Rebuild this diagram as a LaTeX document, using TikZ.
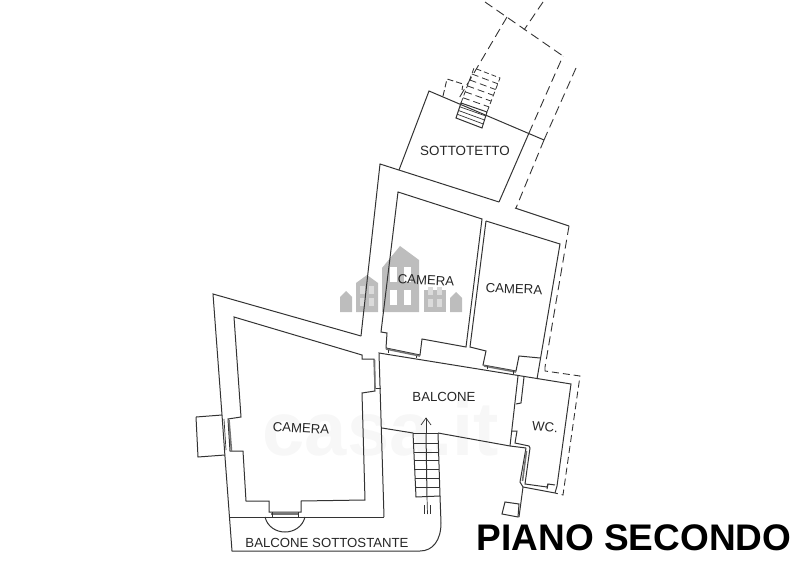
\documentclass[tikz,border=0pt]{standalone}
\usepackage{fontspec}
\usetikzlibrary{calc}
\setmainfont{Liberation Sans}
\definecolor{wall}{gray}{0.2}
\definecolor{mark}{gray}{0.74}
\tikzset{
  wl/.style={draw=wall,line width=1pt,line join=miter},
  dsh/.style={draw=wall,line width=0.9pt,dash pattern=on 9pt off 5pt},
  thin wl/.style={draw=wall,line width=0.7pt},
  glass/.style={draw=black!55,line width=1.6pt},
  lbl/.style={text=black!85,inner sep=0pt,font=\fontsize{13.2}{14}\selectfont},
  house/.style={fill=mark,draw=none},
  pane/.style={fill=white,draw=none}
}
\begin{document}
\begin{tikzpicture}[x=1pt,y=-1pt]
\useasboundingbox (0,0) rectangle (800,561);
% faint watermark
\node[text=black!3,font=\bfseries\fontsize{76}{76}\selectfont,inner sep=0pt] (wm) at (381,428) {casa.it};
% houses
\fill[house] (382,312) -- (382,268) -- (400,246) -- (419,260) -- (419,312) -- cycle;
\fill[house] (356,312) -- (356,283) -- (367,275) -- (378,283) -- (378,312) -- cycle;
\fill[house] (424,312) -- (424,290) -- (446,290) -- (446,312) -- cycle;
\fill[house] (340,312) -- (340,297) -- (346,291) -- (352,297) -- (352,312) -- cycle;
\fill[house] (450,312) -- (450,298) -- (456,292) -- (462,298) -- (462,312) -- cycle;
\foreach \px/\py in {390/267,404/267,390/290,404/290}{\fill[pane] (\px,\py) rectangle +(7,15);}
\foreach \px/\py in {360/286,369/286,360/298,369/298,428/287,437/287,428/299,437/299}{\fill[white!45!mark] (\px,\py) rectangle +(5,8);}
% sottotetto
\draw[wl] (399,170) -- (429,91) -- (544,140);
\draw[wl] (529,133) -- (499,202);
% upper building outer wall
\draw[wl] (361,336) -- (380,164) -- (499,202);
\draw[wl] (515,208) -- (569,226);
% upper dashed
\draw[dsh] (544,140) -- (516,208);
\draw[dsh] (529,133) -- (563,56);
\draw[dsh] (485,2) -- (563,56);
\draw[dsh] (507,17) -- (458,100);
\draw[dsh] (543,2) -- (524,30);
\draw[dsh] (576,68) -- (544,140);
\draw[draw=wall,line width=0.9pt,dash pattern=on 6pt off 3pt] (443,96) -- (447,79) -- (463,84) -- (462,90);
\draw[dsh] (569,226) -- (545,367);
% sottotetto stair
\draw[wl] (461,103) -- (456,118) -- (482,128) -- (487,112) -- cycle;
\foreach \t in {0.25,0.5,0.75}{\draw[thin wl] ($(461,103)!\t!(456,118)$) -- ($(487,112)!\t!(482,128)$);}
\draw[draw=wall,line width=0.8pt,dash pattern=on 5pt off 3pt] (461,103) -- (474,68) -- (500,78) -- (487,112);
\foreach \t in {0.17,0.34,0.51,0.68,0.85}{\draw[draw=wall,line width=0.8pt,dash pattern=on 7pt off 4pt] ($(474,68)!\t!(461,103)$) -- ($(500,78)!\t!(487,112)$);}
% camera 1 and 2 (upper)
\draw[wl] (398,192) -- (482,219) -- (466,347) -- (422,339) -- (420,355) -- (386,348) -- (387,333) -- (381,332) -- cycle;
\draw[wl] (486,221) -- (560,244) -- (537,379);
\draw[wl] (486,221) -- (470,347) -- (486,351) -- (483,365) -- (516,371) -- (519,356) -- (540,358);
% upper windows
\draw[glass] (386,349) -- (420,356);
\draw[glass] (484,366) -- (516,372);
\draw[thin wl] (388,350) -- (388,353) (416,356) -- (416,358);
\draw[thin wl] (487,366) -- (487,369) (513,371) -- (513,374);
% left room outer
\draw[wl] (361,336) -- (213,294) -- (222,415) -- (225,457) -- (232,551) -- (420,551) .. controls (433,551) and (441,540) .. (441,523) -- (440,496);
\draw[wl] (196,417) -- (222,415);
\draw[wl] (196,417) -- (198,457) -- (225,455);
\draw[wl] (229,517) -- (384,517);
% camera left inner
\draw[wl] (234,317) -- (362,355) -- (362,359) -- (374,359) -- (375,391) -- (362,393) -- (365,500) -- (301,501) -- (301,512) -- (269,512) -- (269,501) -- (246,501) -- (243,451) -- (230,451) -- (228,419) -- (241,417) -- cycle;
% left room windows
\draw[glass] (271,514) -- (299,514);
\draw[thin wl] (272,512) -- (272,517) (298,512) -- (298,517);
\draw[glass] (374.5,360) -- (375,389);
\draw[thin wl] (376,388) -- (381,388);
\draw[glass] (229,420) -- (231.5,451);
\draw[thin wl] (224,419) -- (226,450);
% door arc
\draw[wl] (265,517) .. controls (270,537) and (300,537) .. (305,517);
% balcone
\draw[wl] (384,517) -- (379,353) -- (571,384) -- (557,486) -- (555,493);
\draw[wl] (382,428) -- (413,433) (438,433) -- (510,446) -- (526,448);
\draw[wl] (518,376) -- (510,446);
\draw[wl] (524,377) -- (521,403) -- (516,404);
\draw[wl] (512,431) -- (517,431) -- (515,443) -- (529,446) -- (530,448) -- (525,484) -- (547,487) -- (548,484) -- (555,485);
\draw[wl] (526,448) -- (520,482) -- (523,487) -- (519,517);
\draw[wl] (523,487) -- (555,493);
\draw[wl] (548,484) -- (547,489);
\draw[glass] (526.5,451) -- (522.5,481);
% small lower box
\draw[wl] (505,502) -- (519,504) -- (518,517) -- (502,514) -- cycle;
% wc dashed
\draw[draw=wall,line width=0.9pt,dash pattern=on 7pt off 4pt] (545,367) -- (545,371) -- (580,376) -- (563,495) -- (555,493);
% balcone stairs
\draw[wl] (413,433) -- (438,433);
\draw[wl] (413,433) -- (416,497) -- (440,496) -- (438,433);
\draw[wl] (426,433) -- (427,497);
\foreach \yy/\xa/\xb in {443/413.5/438.3,452/414/438.7,460/414.5/439,469/414.8/439.2,478/415.2/439.5,487/415.6/439.7}{\draw[thin wl] (\xa,\yy) -- (\xb,\yy);}
\draw[thin wl] (426,433) -- (426,418);
\draw[thin wl] (421,425) -- (426,418) -- (431,425);
\draw[thin wl] (427,497) -- (427.5,514);
\draw[thin wl] (424.5,505) -- (424.5,514);
\draw[thin wl] (430,505) -- (430,514);
% labels
\node[lbl,font=\fontsize{13.4}{14}\selectfont] (tetto) at (465,151) {SOTTOTETTO};
\node[lbl,rotate=-3] (cam1) at (426,280) {CAMERA};
\node[lbl,rotate=-2] (cam2) at (514,289) {CAMERA};
\node[lbl,rotate=-3] (cam3) at (301,428) {CAMERA};
\node[lbl] (balc) at (444,397) {BALCONE};
\node[lbl,rotate=-4] (wc) at (545,427) {WC.};
\node[lbl] (sotto) at (327,543) {BALCONE SOTTOSTANTE};
\node[inner sep=0pt,text=black,font=\bfseries\fontsize{37}{38}\selectfont] (title) at (634,538) {PIANO SECONDO};
\end{tikzpicture}
\end{document}
